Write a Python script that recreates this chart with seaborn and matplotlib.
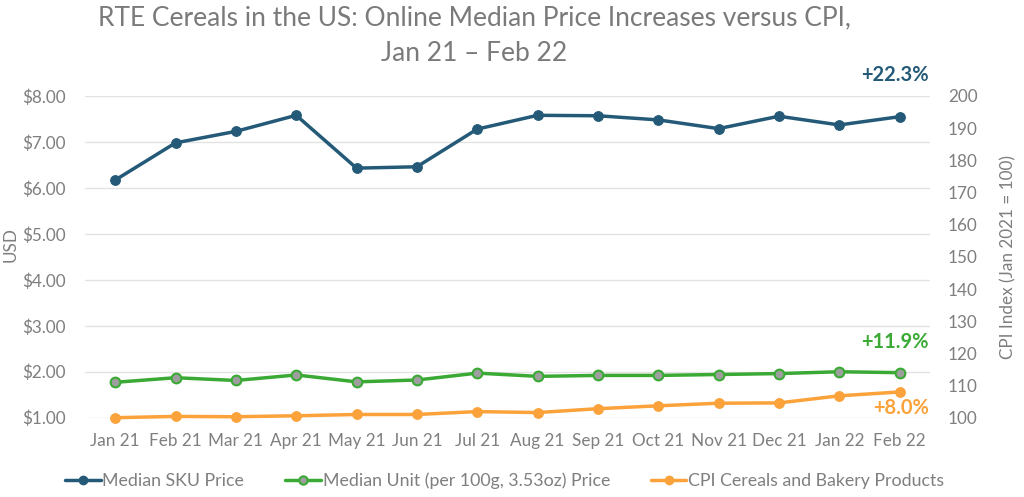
import matplotlib
matplotlib.use("Agg")
import matplotlib.pyplot as plt
import seaborn as sns
import pandas as pd
from matplotlib.lines import Line2D

months = ["Jan 21", "Feb 21", "Mar 21", "Apr 21", "May 21", "Jun 21", "Jul 21",
          "Aug 21", "Sep 21", "Oct 21", "Nov 21", "Dec 21", "Jan 22", "Feb 22"]
sku_price = [6.17, 6.98, 7.23, 7.58, 6.43, 6.46, 7.28, 7.58, 7.57, 7.48, 7.29, 7.56, 7.37, 7.55]
unit_price = [1.77, 1.87, 1.81, 1.93, 1.78, 1.82, 1.97, 1.90, 1.92, 1.92, 1.94, 1.96, 2.00, 1.98]
cpi = [100.0, 100.4, 100.3, 100.6, 101.0, 101.0, 101.9, 101.6, 102.8, 103.7, 104.5, 104.6, 106.8, 108.0]
left_ticks = [1, 2, 3, 4, 5, 6, 7, 8]
right_ticks = [100, 110, 120, 130, 140, 150, 160, 170, 180, 190, 200]
labels = ["+22.3%", "+11.9%", "+8.0%"]
series_names = ["Median SKU Price", "Median Unit (per 100g, 3.53oz) Price", "CPI Cereals and Bakery Products"]

sns.set_style("white")
plt.rcParams["font.family"] = ["Lato", "DejaVu Sans"]

BLUE = "#245a78"
GREEN = "#3aaa35"
ORANGE = "#fba23a"
GREY = "#7f7f7f"

df = pd.DataFrame({"month": months, "sku": sku_price, "unit": unit_price, "cpi": cpi})

fig = plt.figure(figsize=(10.24, 4.97), dpi=100)
ax = fig.add_axes([0.083, 1 - 417.7 / 497, 0.825, (417.7 - 96) / 497])
ax2 = ax.twinx()

sns.lineplot(data=df, x="month", y="sku", ax=ax, color=BLUE, lw=2.5, marker="o",
             markersize=7, markeredgecolor=BLUE, markerfacecolor=BLUE, sort=False, clip_on=False)
sns.lineplot(data=df, x="month", y="unit", ax=ax, color=GREEN, lw=2.5, marker="o",
             markersize=7, markeredgecolor=GREEN, markerfacecolor="#9e9e9e", markeredgewidth=1.5,
             sort=False, clip_on=False)
sns.lineplot(data=df, x="month", y="cpi", ax=ax2, color=ORANGE, lw=2.5, marker="o",
             markersize=7, markeredgecolor=ORANGE, markerfacecolor=ORANGE, sort=False, clip_on=False)

ax.set_xlim(-0.5, len(months) - 0.5)
ax.set_ylim(1, 8)
ax2.set_ylim(100, 200)
ax.set_yticks(left_ticks)
ax.set_yticklabels([f"${v:.2f}" for v in left_ticks])
ax2.set_yticks(right_ticks)
ax.grid(axis="y", color="#e3e3e3", lw=1)
ax.set_axisbelow(True)
for a in (ax, ax2):
    for s in a.spines.values():
        s.set_visible(False)
    a.tick_params(length=0, colors=GREY, labelsize=12.3)
ax.tick_params(axis="x", pad=11)
ax.tick_params(axis="y", pad=14)
ax2.tick_params(axis="y", pad=13)
ax.set_xlabel("")
ax.set_ylabel("USD", color=GREY, fontsize=12.3)
ax.yaxis.set_label_coords(-0.078, 0.537)
ax2.set_ylabel("CPI Index (Jan 2021 = 100)", color=GREY, fontsize=12.3, labelpad=8)
ax2.yaxis.set_label_coords(1.083, 0.5)

n = len(months) - 1
ax.text(n + 0.48, 8.45, labels[0], color=BLUE, fontsize=14.5, fontweight="bold", ha="right", va="center")
ax.text(n + 0.48, 2.64, labels[1], color=GREEN, fontsize=14.5, fontweight="bold", ha="right", va="center")
ax.text(n + 0.48, 1.22, labels[2], color=ORANGE, fontsize=14.5, fontweight="bold", ha="right", va="center")

fig.suptitle("RTE Cereals in the US: Online Median Price Increases versus CPI,\nJan 21 \u2013 Feb 22",
             x=0.463, y=0.99, color="#7a7a7a", fontsize=19, linespacing=1.55)

handles = [
    Line2D([], [], color=BLUE, lw=2.5, marker="o", markersize=6, markerfacecolor=BLUE),
    Line2D([], [], color=GREEN, lw=2.5, marker="o", markersize=6, markerfacecolor="#9e9e9e",
           markeredgecolor=GREEN, markeredgewidth=1.5),
    Line2D([], [], color=ORANGE, lw=2.5, marker="o", markersize=6, markerfacecolor=ORANGE),
]
leg = fig.legend(handles, series_names, loc="center left", bbox_to_anchor=(0.048, 0.033), ncol=3,
                 frameon=False, fontsize=12.8, handlelength=2.0, handletextpad=0.1, columnspacing=2.3,
                 labelcolor=GREY)

fig.savefig("out.png", dpi=100)
